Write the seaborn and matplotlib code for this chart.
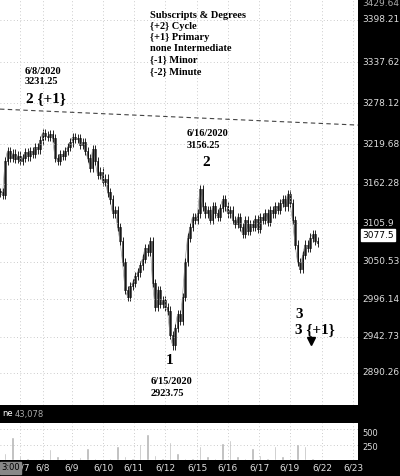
import numpy as np
import pandas as pd
import matplotlib
matplotlib.use("Agg")
import matplotlib.pyplot as plt
import seaborn as sns

# closes, one bar per 2.5 px of the reference
closes = [3150, 3146, 3195, 3210,
          3200, 3206, 3198, 3203, 3195, 3200, 3208, 3202, 3210, 3205, 3215, 3212,
          3225, 3236, 3232, 3230, 3234, 3228,
          3200, 3195, 3205, 3203,
          3210, 3215, 3222, 3230, 3227, 3228, 3218, 3222,
          3210, 3200, 3185, 3212, 3195, 3175,
          3180, 3165, 3170, 3150, 3140, 3120, 3125, 3100,
          3080, 3050, 3010, 3000,
          3015, 3020, 3030, 3035, 3045, 3055, 3070, 3065,
          3080, 3020, 2985, 3010,
          2990, 2995, 2985, 2980,
          2945, 2930, 2955, 2975,
          2965, 3000, 3050, 3085, 3100, 3115,
          3110, 3120, 3155, 3130,
          3120, 3125, 3110, 3130, 3120, 3115, 3128, 3140, 3130, 3120, 3125, 3110,
          3105, 3115, 3100, 3090, 3110, 3095,
          3105, 3100, 3112, 3098, 3115, 3110, 3120, 3108, 3125, 3120, 3130, 3125,
          3135, 3140, 3130, 3148,
          3135, 3110, 3075, 3050, 3040, 3060, 3075, 3070, 3085, 3090, 3080, 3077.5]
volume = [120, 380, 60, 30, 20, 40, 180, 60, 30, 20, 50, 190, 40, 20, 30, 230,
          60, 40, 260, 420, 80, 40, 300, 120, 40, 30, 230, 60, 40, 270, 330, 60,
          30, 200, 80, 40, 230, 60, 30, 260, 220, 40, 20]
price_ticks = [3398.21, 3337.62, 3278.12, 3219.68, 3162.28, 3105.9, 3050.53,
               2996.14, 2942.73, 2890.26]
date_labels = ["6/7", "6/8", "6/9", "6/10", "6/11", "6/12", "6/15", "6/16",
               "6/17", "6/19", "6/22", "6/23"]
date_px = [20, 43, 72, 103, 134, 165, 197, 228, 259, 290, 322, 353]

W, H = 400, 476
sns.set_theme(style="white")
plt.rcParams['font.family'] = ['DejaVu Sans']
fig = plt.figure(figsize=(4, 4.76), dpi=100)
fig.patch.set_facecolor("black")

def fx(px): return px / W
def fy(py): return 1 - py / H

ax = fig.add_axes([0, fy(405), fx(358), 405 / H])
vax = fig.add_axes([0, fy(460), fx(358), 37 / H])
for a in (ax, vax):
    a.set_facecolor("white")
    a.set_xlim(0, 358)
    for s in a.spines.values():
        s.set_visible(False)

ymax = 3398.21 + 20 * 1.439
ymin = 3398.21 - 385 * 1.439
ax.set_ylim(ymin, ymax)

df = pd.DataFrame({"x": np.arange(len(closes)) * 2.5, "close": closes})
df["open"] = df["close"].shift(1).fillna(df["close"])
sns.lineplot(data=df, x="x", y="close", ax=ax, color="#888888", lw=0.4)
for _, r in df.iterrows():
    lo, hi = min(r.open, r.close), max(r.open, r.close)
    ax.vlines(r.x, lo - 6, hi + 6, color="black", lw=0.6)
    ax.bar(r.x, max(hi - lo, 2), bottom=lo, width=1.6, color="#9a9a9a",
           edgecolor="black", lw=0.4)

for t in price_ticks:
    ax.axhline(t, color="#bbbbbb", ls=(0, (1, 3)), lw=0.6)
for p in date_px:
    ax.axvline(p, color="#bbbbbb", ls=(0, (1, 3)), lw=0.6)
    vax.axvline(p, color="#bbbbbb", ls=(0, (1, 3)), lw=0.6)
ax.set_xticks([]); ax.set_yticks([])
ax.set_xlabel(""); ax.set_ylabel("")

ax.plot([0, 358], [3270, 3247], color="#444444", ls=(0, (4, 3)), lw=0.8)
ax.plot([311], [2936], marker="v", color="black", ms=6)

vdf = pd.DataFrame({"x": np.arange(len(volume)) * 7.5 + 5, "v": volume})
vax.bar(vdf.x, vdf.v, width=2.5, color="#b5b5b5")
vax.set_ylim(0, 600)
for t in (250, 500):
    vax.axhline(t, color="#bbbbbb", ls=(0, (1, 3)), lw=0.6)
vax.set_xticks([]); vax.set_yticks([])

# right-hand axis labels
for t in price_ticks:
    py = 20 + (3398.21 - t) / 1.439
    fig.text(fx(362), fy(py), f"{t:g}",
             color="#dddddd", fontsize=6.5, va="center")
fig.text(fx(362), fy(3), "3429.64", color="#aaaaaa", fontsize=6.5, va="center")
fig.text(fx(362), fy(235), "3077.5", color="black", fontsize=6.5, va="center",
         bbox=dict(facecolor="white", edgecolor="white", pad=1))
fig.text(fx(362), fy(434), "500", color="#dddddd", fontsize=6, va="center")
fig.text(fx(362), fy(448), "250", color="#dddddd", fontsize=6, va="center")
fig.text(fx(2), fy(414), "ne", color="white", fontsize=6, va="center")
fig.text(fx(15), fy(414), "43,078", color="#aaaaaa", fontsize=6, va="center")
for lab, p in zip(date_labels, date_px):
    fig.text(fx(p + (3 if p == 20 else 0)), fy(468), lab, color="#dddddd",
             fontsize=6.5, ha="center", va="center")
fig.text(fx(1), fy(468), "3:00", color="black", fontsize=6, va="center",
         bbox=dict(facecolor="#888888", edgecolor="#888888", pad=1))

serif = dict(family=["Liberation Serif"], fontweight="bold", color="black")
legend = ["Subscripts & Degrees", "{+2} Cycle", "{+1} Primary",
          "none Intermediate", "{-1} Minor", "{-2} Minute"]
for i, s in enumerate(legend):
    fig.text(fx(150), fy(15 + i * 11.3), s, fontsize=7.5, va="center", **serif)
notes = [(25, 72, "6/8/2020", 7.5), (25, 82, "3231.25", 7.5), (26, 99, "2 {+1}", 11),
         (187, 133, "6/16/2020", 7.5), (187, 145, "3156.25", 7.5), (202, 162, "2", 11),
         (166, 361, "1", 11), (151, 381, "6/15/2020", 7.5), (151, 393, "2923.75", 7.5),
         (295, 314, "3", 11), (295, 330, "3 {+1}", 11)]
for px, py, s, fs in notes:
    fig.text(fx(px), fy(py), s, fontsize=fs, va="center", **serif)

fig.savefig("out.png", dpi=100, facecolor="black")
